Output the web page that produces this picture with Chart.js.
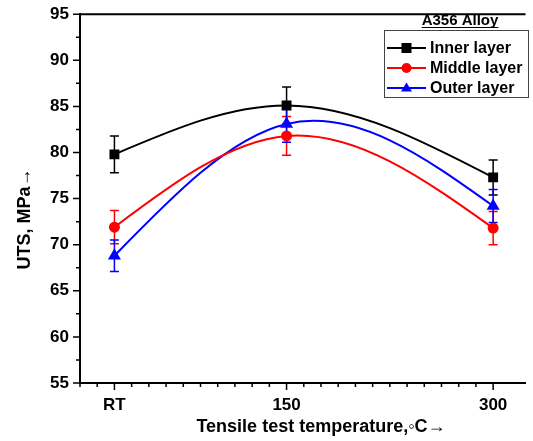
<!DOCTYPE html>
<html lang="en">
<head>
<meta charset="UTF-8">
<title>UTS vs tensile test temperature</title>
<script src="https://cdn.jsdelivr.net/npm/chart.js"></script>
<style>
    body { margin: 0; padding: 0; background: #fff; }
    #wrap { width: 533px; height: 441px; }
</style>
</head>
<body>
<div id="wrap"><canvas id="chart" width="533" height="441"></canvas></div>
<script>
// temperatures in degC, RT taken as 25
const temps = [25, 150, 300];
const tempLabels = { 25: 'RT', 150: '150', 300: '300' };
const seriesNames = ['Inner layer', 'Middle layer', 'Outer layer'];
const innerUTS = [79.8, 85.1, 77.3];
const middleUTS = [71.9, 81.8, 71.8];
const outerUTS = [68.8, 83.1, 74.2];
const innerErr = [2.0, 2.0, 1.9];
const middleErr = [1.8, 2.1, 1.8];
const outerErr = [1.7, 2.0, 1.8];
const legendTitle = 'A356 Alloy';
const xTitle = 'Tensile test temperature,\u25E6C\u2192';
const yTitle = 'UTS, MPa\u2192';

const colors = ['#000000', '#ff0000', '#0000ff'];
const markers = ['rect', 'circle', 'triangle'];
const radii = [7, 5.5, 7.5];
const allUTS = [innerUTS, middleUTS, outerUTS];
const allErr = [innerErr, middleErr, outerErr];
const FONT = "'Liberation Sans', Arial, sans-serif";

function makeDataset(i) {
    return {
        label: seriesNames[i],
        data: temps.map((t, j) => ({ x: t, y: allUTS[i][j] })),
        borderColor: colors[i],
        backgroundColor: colors[i],
        borderWidth: 2,
        tension: 0.4,
        pointStyle: markers[i],
        pointRadius: radii[i],
        pointBorderWidth: 0,
        err: allErr[i]
    };
}

// the original plot uses a natural cubic spline, so replace the
// bezier control points chart.js computed for the line element
const naturalSpline = {
    id: 'naturalSpline',
    beforeDatasetDraw(chart, args) {
        const meta = args.meta;
        meta.dataset.updateControlPoints(chart.chartArea, 'x');
        const pts = meta.data;
        const n = pts.length;
        if (n < 3) return;
        const h = [], s = [];
        for (let i = 0; i < n - 1; i++) {
            h.push(pts[i + 1].x - pts[i].x);
            s.push((pts[i + 1].y - pts[i].y) / h[i]);
        }
        // second derivatives, natural ends (tridiagonal solve)
        const M = new Array(n).fill(0);
        const a = [], b = [], c = [], d = [];
        for (let i = 1; i < n - 1; i++) {
            a.push(h[i - 1]); b.push(2 * (h[i - 1] + h[i])); c.push(h[i]);
            d.push(6 * (s[i] - s[i - 1]));
        }
        const m = b.length;
        for (let i = 1; i < m; i++) {
            const w = a[i] / b[i - 1];
            b[i] -= w * c[i - 1];
            d[i] -= w * d[i - 1];
        }
        for (let i = m - 1; i >= 0; i--) {
            M[i + 1] = (d[i] - (i < m - 1 ? c[i] * M[i + 2] : 0)) / b[i];
        }
        const slope = [];
        for (let i = 0; i < n - 1; i++) slope.push(s[i] - h[i] * (2 * M[i] + M[i + 1]) / 6);
        slope.push(s[n - 2] + h[n - 2] * (M[n - 2] + 2 * M[n - 1]) / 6);
        for (let i = 0; i < n; i++) {
            const p = pts[i];
            if (i > 0) {
                const hh = h[i - 1] / 3;
                p.cp1x = p.x - hh; p.cp1y = p.y - slope[i] * hh;
            }
            if (i < n - 1) {
                const hh = h[i] / 3;
                p.cp2x = p.x + hh; p.cp2y = p.y + slope[i] * hh;
            }
        }
    }
};

// vertical error bars with caps, drawn under the markers
const errorBars = {
    id: 'errorBars',
    beforeDatasetsDraw(chart) {
        const ctx = chart.ctx, xs = chart.scales.x, ys = chart.scales.y;
        chart.data.datasets.forEach(ds => {
            ctx.save();
            ctx.strokeStyle = ds.borderColor;
            ctx.lineWidth = 1.5;
            ds.data.forEach((p, j) => {
                const px = xs.getPixelForValue(p.x);
                const top = ys.getPixelForValue(p.y + ds.err[j]);
                const bot = ys.getPixelForValue(p.y - ds.err[j]);
                ctx.beginPath();
                ctx.moveTo(px, top); ctx.lineTo(px, bot);
                ctx.moveTo(px - 4.5, top); ctx.lineTo(px + 4.5, top);
                ctx.moveTo(px - 4.5, bot); ctx.lineTo(px + 4.5, bot);
                ctx.stroke();
            });
            ctx.restore();
        });
    }
};

function drawMarker(ctx, style, x, y, r) {
    ctx.beginPath();
    if (style === 'rect') {
        ctx.rect(x - r, y - r, 2 * r, 2 * r);
    } else if (style === 'circle') {
        ctx.arc(x, y, r, 0, Math.PI * 2);
    } else {
        ctx.moveTo(x, y - r * 1.1);
        ctx.lineTo(x + r * 1.1, y + r * 0.7);
        ctx.lineTo(x - r * 1.1, y + r * 0.7);
        ctx.closePath();
    }
    ctx.fill();
}

// ticks, top frame line, axis titles and legend box
const frame = {
    id: 'frame',
    afterDraw(chart) {
        const ctx = chart.ctx, area = chart.chartArea;
        const xs = chart.scales.x, ys = chart.scales.y;
        ctx.save();
        ctx.strokeStyle = '#000';
        ctx.lineWidth = 1.5;
        ctx.beginPath();
        ys.ticks.forEach(t => {
            const py = ys.getPixelForValue(t.value);
            const len = t.value % 5 === 0 ? 7 : 4;
            ctx.moveTo(area.left, py); ctx.lineTo(area.left - len, py);
        });
        xs.ticks.forEach(t => {
            if (t.value % 12.5 !== 0) return;
            const px = xs.getPixelForValue(t.value);
            const len = tempLabels[t.value] ? 7 : 4;
            ctx.moveTo(px, area.bottom); ctx.lineTo(px, area.bottom + len);
        });
        ctx.stroke();

        ctx.lineWidth = 2;
        ctx.beginPath();
        ctx.moveTo(area.left, area.top);
        ctx.lineTo(area.right, area.top);
        ctx.stroke();

        ctx.fillStyle = '#000';
        ctx.textAlign = 'center';
        ctx.textBaseline = 'alphabetic';
        ctx.font = 'bold 18px ' + FONT;
        ctx.fillText(xTitle, 321, 432);
        ctx.save();
        ctx.translate(30, 219);
        ctx.rotate(-Math.PI / 2);
        ctx.fillText(yTitle, 0, 0);
        ctx.restore();

        // legend
        ctx.font = 'bold 15px ' + FONT;
        ctx.fillText(legendTitle, 460, 25);
        const w = ctx.measureText(legendTitle).width;
        ctx.lineWidth = 1;
        ctx.beginPath();
        ctx.moveTo(460 - w / 2, 27.5); ctx.lineTo(460 + w / 2, 27.5);
        ctx.stroke();

        ctx.strokeStyle = '#444';
        ctx.strokeRect(384.5, 30.5, 144, 67);

        ctx.font = 'bold 16px ' + FONT;
        ctx.textAlign = 'left';
        ctx.textBaseline = 'middle';
        seriesNames.forEach((name, i) => {
            const ly = 48 + i * 20;
            ctx.strokeStyle = colors[i];
            ctx.fillStyle = colors[i];
            ctx.lineWidth = 2;
            ctx.beginPath();
            ctx.moveTo(387, ly); ctx.lineTo(426, ly);
            ctx.stroke();
            drawMarker(ctx, markers[i], 406.5, ly, 5);
            ctx.fillStyle = '#000';
            ctx.fillText(name, 430, ly + 1);
        });
        ctx.restore();
    }
};

new Chart(document.getElementById('chart'), {
    type: 'line',
    data: { datasets: [0, 1, 2].map(makeDataset) },
    options: {
        responsive: false,
        animation: false,
        devicePixelRatio: 1,
        layout: { padding: { top: 13, right: 0, left: 0, bottom: 0 } },
        plugins: { legend: { display: false }, tooltip: { enabled: false } },
        scales: {
            x: {
                type: 'linear',
                min: 0,
                max: 323.5,
                afterFit(s) { s.height = 58; },
                border: { display: true, color: '#000', width: 2 },
                grid: { color: 'rgba(0,0,0,0)', drawOnChartArea: false, tickLength: 7 },
                ticks: {
                    stepSize: 12.5,
                    autoSkip: false,
                    maxRotation: 0,
                    padding: 5,
                    color: '#000',
                    font: { family: FONT, weight: 'bold', size: 17 },
                    callback: v => tempLabels[v] || ''
                }
            },
            y: {
                min: 55,
                max: 95,
                afterFit(s) { s.width = 80; },
                border: { display: true, color: '#000', width: 2 },
                grid: { color: 'rgba(0,0,0,0)', drawOnChartArea: false, tickLength: 7 },
                ticks: {
                    stepSize: 2.5,
                    autoSkip: false,
                    padding: 4,
                    color: '#000',
                    font: { family: FONT, weight: 'bold', size: 17 },
                    callback: v => (v % 5 === 0 ? v : '')
                }
            }
        }
    },
    plugins: [naturalSpline, errorBars, frame]
});
</script>
</body>
</html>
